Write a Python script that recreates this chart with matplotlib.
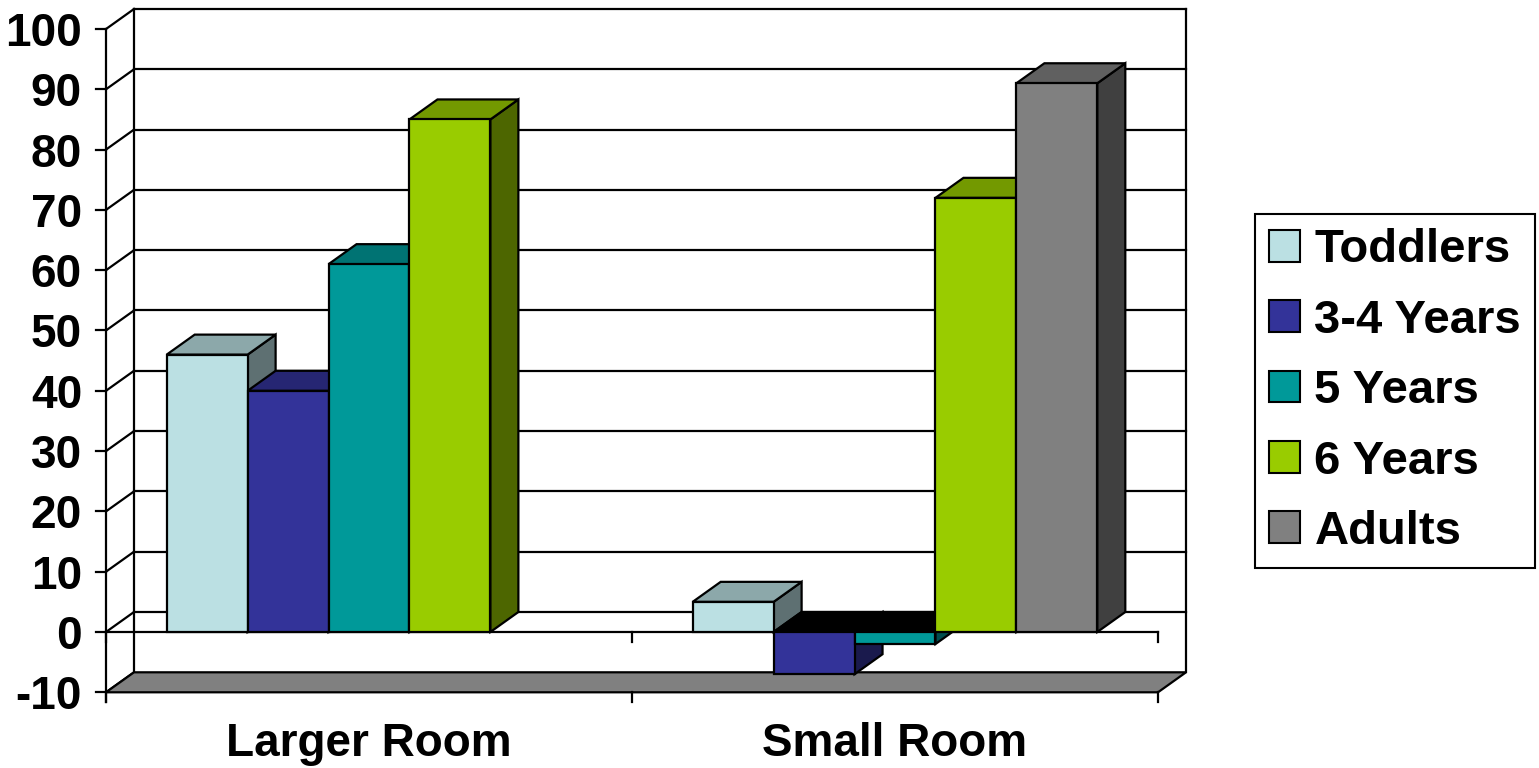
import matplotlib.pyplot as plt
from matplotlib.patches import Patch, Polygon

plt.rcParams["font.family"] = ["Liberation Sans", "DejaVu Sans"]
plt.rcParams["font.weight"] = "bold"

categories = ["Larger Room", "Small Room"]
series_names = ["Toddlers", "3-4 Years", "5 Years", "6 Years", "Adults"]
toddlers = [46, 5]
years_3_4 = [40, -7]
years_5 = [61, -2]
years_6 = [85, 72]
adults = [None, 91]
y_ticks = list(range(-10, 101, 10))

series_values = [toddlers, years_3_4, years_5, years_6, adults]
face_colors = ["#BBE0E3", "#333399", "#009999", "#99CC00", "#808080"]

# canvas layout (pixels)
W, H = 1539, 768
AXIS_X_PX = 106
CAT_PX = 526          # width of one category on the front plane
ZERO_PX = 632         # y of value 0 (from top)
UNIT_PX = 6.03        # pixels per value unit
DEPTH_X_PX, DEPTH_Y_PX = 28, 20

fig = plt.figure(figsize=(W / 100, H / 100), dpi=100)
ax = fig.add_axes([0, 0, 1, 1])
ax.set_xlim(-AXIS_X_PX / CAT_PX, (W - AXIS_X_PX) / CAT_PX)
ax.set_ylim(-(H - ZERO_PX) / UNIT_PX, ZERO_PX / UNIT_PX)
ax.axis("off")

dx = DEPTH_X_PX / CAT_PX
dy = DEPTH_Y_PX / UNIT_PX
px_x = 1 / CAT_PX
px_y = 1 / UNIT_PX
ymin, ymax = y_ticks[0], y_ticks[-1]
ncat = len(categories)
lw = 1.6


def shade(hex_color, k):
    r, g, b = (int(hex_color[i:i + 2], 16) / 255 for i in (1, 3, 5))
    return (r * k, g * k, b * k)


# back wall and side wall
for v in y_ticks[1:]:
    ax.plot([dx, ncat + dx], [v + dy, v + dy], color="black", lw=lw, zorder=1)
for v in y_ticks:
    ax.plot([0, dx], [v, v + dy], color="black", lw=lw, zorder=1)
ax.plot([dx, dx], [ymin + dy, ymax + dy], color="black", lw=lw, zorder=1)
ax.plot([ncat + dx, ncat + dx], [ymin + dy, ymax + dy], color="black", lw=lw, zorder=1)
ax.plot([0, 0], [ymin - 10 * px_y, ymax], color="black", lw=lw, zorder=2)

# floor
ax.add_patch(Polygon([(0, ymin), (ncat, ymin), (ncat + dx, ymin + dy), (dx, ymin + dy)],
                     closed=True, facecolor="#808080", edgecolor="black", lw=lw, zorder=2))

# category axis at zero and at the floor
ax.plot([0, ncat], [0, 0], color="black", lw=lw, zorder=3)
for i in range(ncat + 1):
    ax.plot([i, i], [0, -10 * px_y], color="black", lw=lw, zorder=3)
    ax.plot([i, i], [ymin, ymin - 10 * px_y], color="black", lw=lw, zorder=3)

# value ticks and labels
for v in y_ticks:
    ax.plot([-10 * px_x, 0], [v, v], color="black", lw=lw, zorder=3)
    ax.text(-24 * px_x, v, str(v), ha="right", va="center_baseline",
            fontsize=33, fontweight="bold")

# category names, baseline 124 px below the zero line
for i, name in enumerate(categories):
    ax.text(i + 0.5, -124 * px_y, name, ha="center", va="baseline",
            fontsize=33, fontweight="bold")

# 3-D columns: side, top, then front face, left to right
width = 1 / (len(series_names) + 1.5)
z = 10
for c in range(ncat):
    for s, vals in enumerate(series_values):
        v = vals[c]
        if v is None:
            continue
        x0 = c + 0.75 * width + s * width
        x1 = x0 + width
        lo, hi = min(v, 0), max(v, 0)
        color = face_colors[s]
        ax.add_patch(Polygon([(x1, lo), (x1 + dx, lo + dy), (x1 + dx, hi + dy), (x1, hi)],
                             closed=True, facecolor=shade(color, 0.5),
                             edgecolor="black", lw=lw, zorder=z))
        top_color = shade(color, 0.75) if v >= 0 else "black"
        ax.add_patch(Polygon([(x0, hi), (x1, hi), (x1 + dx, hi + dy), (x0 + dx, hi + dy)],
                             closed=True, facecolor=top_color,
                             edgecolor="black", lw=lw, zorder=z + 1))
        ax.bar(x0, v, width=width, align="edge", color=color,
               edgecolor="black", linewidth=lw, zorder=z + 2)
        z += 3

handles = [Patch(facecolor=col, edgecolor="black", linewidth=1.5) for col in face_colors]
leg = ax.legend(handles, series_names, loc="upper left",
                bbox_to_anchor=(1255 / W, 1 - 214 / H), bbox_transform=fig.transFigure,
                prop={"family": "Liberation Sans", "weight": "bold", "size": 34},
                handlelength=0.66, handleheight=0.66, handletextpad=0.3,
                labelspacing=0.56, borderpad=0.3, borderaxespad=0,
                frameon=True, fancybox=False, framealpha=1)
leg.get_frame().set_edgecolor("black")
leg.get_frame().set_linewidth(1.5)

fig.savefig("out.png", dpi=100)
